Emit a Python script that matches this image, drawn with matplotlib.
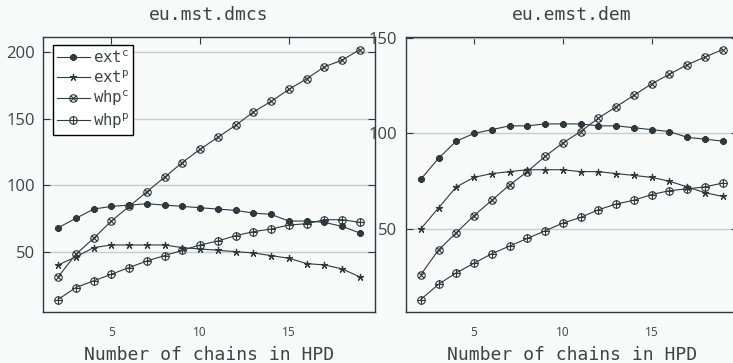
import matplotlib
matplotlib.use('Agg')
import numpy as np
import matplotlib.pyplot as plt
from matplotlib.path import Path

# number of chains in HPD
chains = list(range(2, 20))

# eu.mst.dmcs
mst_ext_c = [68, 75, 82, 84, 85, 86, 85, 84, 83, 82, 81, 79, 78, 73, 73, 72, 69, 64]
mst_ext_p = [40, 46, 53, 55, 55, 55, 55, 53, 52, 51, 50, 49, 47, 45, 41, 40, 37, 31]
mst_whp_c = [31, 48, 60, 73, 84, 95, 106, 117, 127, 136, 145, 155, 163, 172, 180, 189, 194, 202]
mst_whp_p = [14, 23, 28, 33, 38, 43, 47, 51, 55, 58, 62, 65, 67, 70, 71, 74, 74, 72]

# eu.emst.dem
emst_ext_c = [76, 87, 96, 100, 102, 104, 104, 105, 105, 105, 104, 104, 103, 102, 101, 98, 97, 96]
emst_ext_p = [50, 61, 72, 77, 79, 80, 81, 81, 81, 80, 80, 79, 78, 77, 75, 72, 69, 67]
emst_whp_c = [26, 39, 48, 57, 65, 73, 80, 88, 95, 101, 108, 114, 120, 126, 131, 136, 140, 144]
emst_whp_p = [13, 21, 27, 32, 37, 41, 45, 49, 53, 56, 60, 63, 65, 68, 70, 71, 72, 74]

titles = ['eu.mst.dmcs', 'eu.emst.dem']
labels = ['ext$^\\mathtt{c}$', 'ext$^\\mathtt{p}$', 'whp$^\\mathtt{c}$', 'whp$^\\mathtt{p}$']

# circle with x / circle with + markers
circ = Path.unit_circle()
k = np.sqrt(0.5)
cross_x = Path([(-k, -k), (k, k), (-k, k), (k, -k)],
               [Path.MOVETO, Path.LINETO, Path.MOVETO, Path.LINETO])
cross_p = Path([(-1, 0), (1, 0), (0, -1), (0, 1)],
               [Path.MOVETO, Path.LINETO, Path.MOVETO, Path.LINETO])
otimes = Path.make_compound_path(circ, cross_x)
oplus = Path.make_compound_path(circ, cross_p)

ink = '#2e3a3f'
txt = '#3a4449'
bg = '#f8f9f9'

plt.rcParams['mathtext.fontset'] = 'dejavusans'

fig = plt.figure(figsize=(7.33, 3.63), dpi=100, facecolor=bg)
w = 332 / 733
pos = [[43 / 733, 51 / 363, w, 275 / 363],
       [405.7 / 733, 51 / 363, w, 275 / 363]]

panels = [(mst_ext_c, mst_ext_p, mst_whp_c, mst_whp_p),
          (emst_ext_c, emst_ext_p, emst_whp_c, emst_whp_p)]
yticks = [[50, 100, 150, 200], [50, 100, 150]]

for i in range(2):
    ax = fig.add_axes(pos[i])
    ax.set_facecolor(bg)
    ext_c, ext_p, whp_c, whp_p = panels[i]
    ax.plot(chains, ext_c, color=ink, lw=0.8, marker=(6, 2, 0), ms=4.8, mew=1.9, label=labels[0])
    ax.plot(chains, ext_p, color=ink, lw=0.8, marker=(5, 2, 0), ms=5.2, mew=0.9, label=labels[1])
    ax.plot(chains, whp_c, color=ink, lw=0.8, marker=otimes, ms=5.4, mew=0.8, mfc='none', label=labels[2])
    ax.plot(chains, whp_p, color=ink, lw=0.8, marker=oplus, ms=5.4, mew=0.8, mfc='none', label=labels[3])

    allv = ext_c + ext_p + whp_c + whp_p
    lo, hi = min(allv), max(allv)
    ax.set_ylim(lo - 0.05 * (hi - lo), hi + 0.05 * (hi - lo))
    ax.set_xlim(2 - 0.05 * 17, 19 + 0.05 * 17)
    ax.set_xticks([5, 10, 15])
    ax.set_yticks(yticks[i])
    ax.grid(axis='y', color='#c9cccd', lw=1)
    ax.set_axisbelow(True)
    for s in ax.spines.values():
        s.set_color(ink)
        s.set_linewidth(1.0)
    ax.tick_params(axis='x', direction='in', top=True, bottom=False, labelbottom=True,
                   length=5, width=0.8, color=ink, pad=10, labelsize=8.5, labelcolor=txt)
    ax.tick_params(axis='y', direction='in', left=True, right=True, length=5, width=0.8,
                   color=ink, pad=6, labelsize=12, labelcolor=txt)
    for t in ax.get_xticklabels() + ax.get_yticklabels():
        t.set_fontfamily('Open Sans')
    ax.set_title(titles[i], fontfamily='DejaVu Sans Mono', fontsize=13, color=txt, pad=12)
    ax.set_xlabel('Number of chains in HPD', fontfamily='DejaVu Sans Mono', fontsize=13,
                  color=txt, labelpad=5)
    if i == 0:
        leg = ax.legend(loc='upper left', bbox_to_anchor=(0.03, 0.97), fancybox=False,
                        framealpha=1, edgecolor='black', facecolor='white',
                        handlelength=2.1, handletextpad=0.2, borderpad=0.25,
                        labelspacing=0.2, borderaxespad=0,
                        prop={'family': 'DejaVu Sans Mono', 'size': 11.3})
        leg.get_frame().set_linewidth(1.0)
        for t in leg.get_texts():
            t.set_color(txt)

fig.savefig('out.png', dpi=100, facecolor=bg)
